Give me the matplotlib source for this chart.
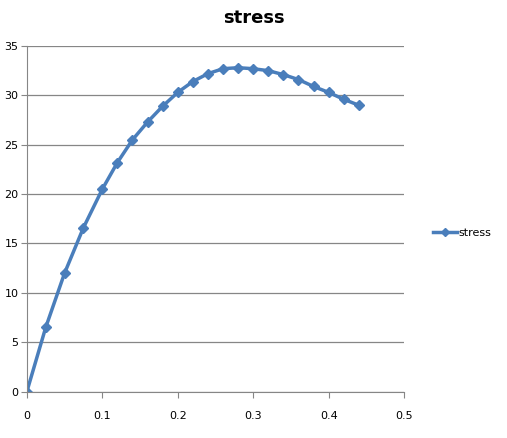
import matplotlib.pyplot as plt

strain = [0, 0.025, 0.05, 0.075, 0.1, 0.12, 0.14, 0.16, 0.18, 0.2, 0.22,
          0.24, 0.26, 0.28, 0.30, 0.32, 0.34, 0.36, 0.38, 0.40, 0.42, 0.44]
stress = [0, 6.5, 12.0, 16.6, 20.5, 23.2, 25.5, 27.3, 28.9, 30.3, 31.4,
          32.2, 32.7, 32.8, 32.7, 32.5, 32.1, 31.6, 30.9, 30.3, 29.6, 29.0]

fig = plt.figure(figsize=(5.07, 4.38), dpi=100)
ax = fig.add_axes([0.053, 0.106, 0.744, 0.789])

ax.plot(strain, stress, '-', color='#4A7EBB', linewidth=2.5,
        marker='D', markersize=5.5, label='stress')

ax.set_xlim(0, 0.5)
ax.set_ylim(0, 35)
ax.set_xticks([0, 0.1, 0.2, 0.3, 0.4, 0.5])
ax.set_xticklabels(['0', '0.1', '0.2', '0.3', '0.4', '0.5'])
ax.set_yticks(range(0, 36, 5))
ax.yaxis.grid(True, color='#868686', linewidth=0.9)
ax.set_axisbelow(True)
for s in ['top', 'right']:
    ax.spines[s].set_visible(False)
ax.spines['left'].set_color('#868686')
ax.spines['bottom'].set_color('#868686')
ax.tick_params(axis='y', length=4, color='#868686', labelsize=8, pad=2)
ax.tick_params(axis='x', length=4, color='#868686', labelsize=8, pad=10)

fig.text(0.5, 0.96, 'stress', ha='center', va='center', fontsize=13, fontweight='bold')
ax.legend(loc='center left', bbox_to_anchor=(1.05, 0.46), frameon=False,
          fontsize=8, handlelength=2.2, handletextpad=0.1, markerscale=0.8)

plt.savefig('out.png', dpi=100)
plt.close()
